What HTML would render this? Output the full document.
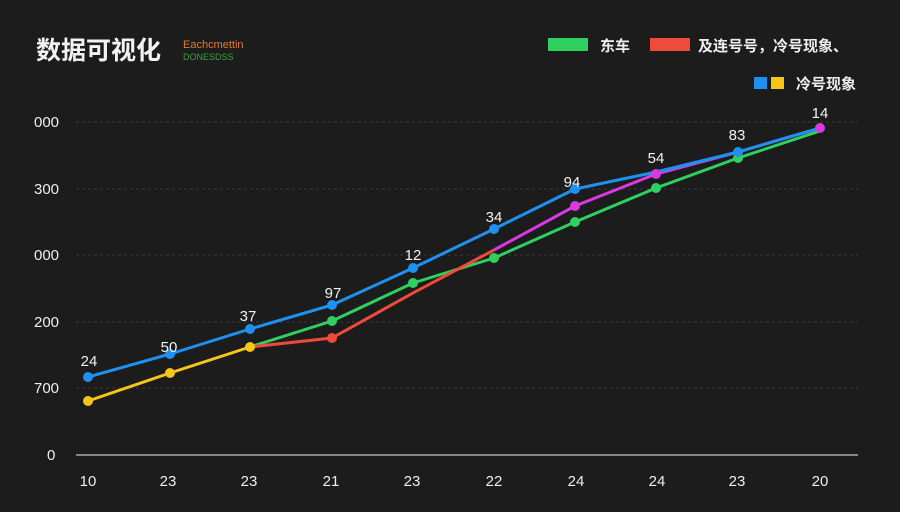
<!DOCTYPE html>
<html><head><meta charset="utf-8"><style>
body{margin:0;background:#1b1b1b;}
svg{display:block;font-family:"Liberation Sans","Noto Sans CJK SC",sans-serif;}
</style></head><body>
<svg width="900" height="512" viewBox="0 0 900 512">
<rect width="900" height="512" fill="#1c1c1c"/>
<text x="36" y="59" fill="#f2f2f2" font-size="25" font-weight="bold" font-family="'Noto Sans CJK SC',sans-serif">数据可视化</text>
<text x="183" y="48" fill="#e07a30" font-size="11">Eachcmettin</text>
<text x="183" y="60" fill="#3aa040" font-size="9">DONESDSS</text>
<rect x="548" y="38" width="40" height="13" fill="#2fd060"/>
<text x="600" y="51" fill="#eee" font-size="15" font-weight="bold" font-family="'Noto Sans CJK SC',sans-serif">东车</text>
<rect x="650" y="38" width="40" height="13" fill="#f04a3a"/>
<text x="698" y="51" fill="#eee" font-size="15" font-weight="bold" font-family="'Noto Sans CJK SC',sans-serif">及连号号，冷号现象、</text>
<rect x="754" y="77" width="13" height="12" fill="#1e90f0"/>
<rect x="771" y="77" width="13" height="12" fill="#f5c518"/>
<text x="796" y="89" fill="#eee" font-size="15" font-weight="bold" font-family="'Noto Sans CJK SC',sans-serif">冷号现象</text>
<g stroke="#3a3a3a" stroke-width="1" stroke-dasharray="3,3">
<line x1="76" y1="122" x2="858" y2="122"/><line x1="76" y1="189" x2="858" y2="189"/>
<line x1="76" y1="255" x2="858" y2="255"/><line x1="76" y1="322" x2="858" y2="322"/>
<line x1="76" y1="388" x2="858" y2="388"/></g>
<line x1="76" y1="455" x2="858" y2="455" stroke="#aaa" stroke-width="1.5"/>
<g fill="#eee" font-size="15">
<text x="34" y="127">000</text><text x="34" y="194">300</text><text x="34" y="260">000</text>
<text x="34" y="327">200</text><text x="34" y="393">700</text><text x="47" y="460">0</text></g>
<g fill="#eee" font-size="15" text-anchor="middle">
<text x="88" y="486">10</text><text x="168" y="486">23</text><text x="249" y="486">23</text><text x="331" y="486">21</text><text x="412" y="486">23</text><text x="494" y="486">22</text><text x="576" y="486">24</text><text x="657" y="486">24</text><text x="737" y="486">23</text><text x="820" y="486">20</text></g>
<g fill="none" stroke-width="3" stroke-linejoin="round">
<polyline stroke="#f5c518" points="88,401 170,373 250,347"/>
<polyline stroke="#2fd060" points="250,347 332,321 413,283 494,258 575,222 656,188 738,158 820,131"/>
<polyline stroke="#f04a3a" points="250,347 332,338 413,293 494,250"/>
<polyline stroke="#d63ae0" points="494,250 575,206 656,174 738,152 820,128"/>
<polyline stroke="#1e90f0" points="88,377 170,354 250,329 332,305 413,268 494,229 575,189 656,172 738,152 820,128"/>
</g>
<g fill="#f5c518"><circle cx="88" cy="401" r="5"/><circle cx="170" cy="373" r="5"/><circle cx="250" cy="347" r="5"/></g>
<g fill="#2fd060"><circle cx="332" cy="321" r="5"/><circle cx="413" cy="283" r="5"/><circle cx="494" cy="258" r="5"/><circle cx="575" cy="222" r="5"/><circle cx="656" cy="188" r="5"/><circle cx="738" cy="158" r="5"/></g>
<g fill="#f04a3a"><circle cx="332" cy="338" r="5"/></g>
<g fill="#d63ae0"><circle cx="575" cy="206" r="5"/><circle cx="656" cy="174" r="5"/><circle cx="820" cy="128" r="5"/></g>
<g fill="#1e90f0"><circle cx="88" cy="377" r="5"/><circle cx="170" cy="354" r="5"/><circle cx="250" cy="329" r="5"/><circle cx="332" cy="305" r="5"/><circle cx="413" cy="268" r="5"/><circle cx="494" cy="229" r="5"/><circle cx="575" cy="189" r="5"/><circle cx="738" cy="152" r="5"/></g>
<g fill="#f2f2f2" font-size="15" text-anchor="middle">
<text x="89" y="366">24</text><text x="169" y="352">50</text><text x="248" y="321">37</text><text x="333" y="298">97</text><text x="413" y="260">12</text><text x="494" y="222">34</text><text x="572" y="187">94</text><text x="656" y="163">54</text><text x="737" y="140">83</text><text x="820" y="118">14</text></g>
</svg>
</body></html>
